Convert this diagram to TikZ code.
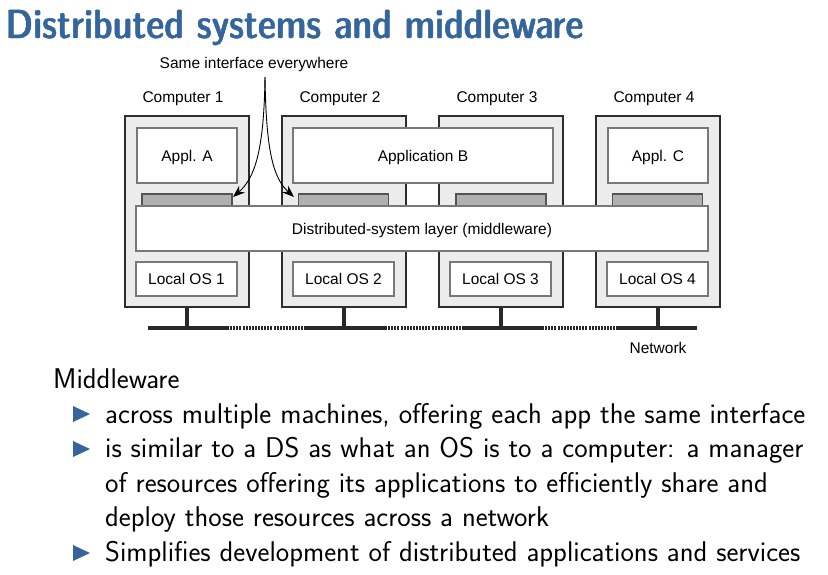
\documentclass[tikz,border=0pt]{standalone}
\usepackage{fontspec}
\newfontfamily\arialf{Liberation Sans}
\newfontfamily\titlef[FakeBold=1.2]{lmsansdemicond10-regular.otf}
\usetikzlibrary{arrows.meta}
\definecolor{sblue}{RGB}{52,101,155}
\definecolor{compfill}{RGB}{236,236,236}
\definecolor{compline}{RGB}{45,45,45}
\definecolor{innerline}{RGB}{120,120,120}
\definecolor{ifill}{RGB}{176,176,176}
\definecolor{netc}{RGB}{40,40,40}
\tikzset{
  compbox/.style={draw=compline, fill=compfill, line width=2.2pt, minimum width=124pt, minimum height=191pt, inner sep=0pt},
  appbox/.style={draw=innerline, fill=white, line width=1.3pt, inner sep=0pt, text height=11pt, text depth=0pt, font=\arialf\fontsize{15.5}{18}\selectfont},
  ifbox/.style={draw=innerline!70!black, fill=ifill, line width=1.3pt, minimum width=90pt, minimum height=12pt, inner sep=0pt},
  lbl/.style={inner sep=0pt, text height=11pt, text depth=0pt, font=\arialf\fontsize{15.5}{18}\selectfont},
  netsolid/.style={draw=netc, line width=4pt},
  netdot/.style={draw=netc, line width=3.5pt, dash pattern=on 2pt off 1.1pt},
  stem/.style={draw=netc, line width=3.5pt},
  curvearrow/.style={draw=black, line width=0.9pt, -{Stealth[length=12pt,width=9pt]}},
  body/.style={anchor=base west, inner sep=0pt, font=\sffamily\fontsize{28.5}{34.5}\selectfont},
  bul/.style={fill=sblue}
}
\begin{document}
\begin{tikzpicture}[x=1pt,y=-1pt]
\useasboundingbox (0,0) rectangle (828,574);

% title
\node[anchor=base west, inner sep=0pt, text=sblue, font=\titlef\fontsize{40.7}{48}\selectfont] (title) at (5,38) {Distributed systems and middleware};

% computers
\node[compbox] (c1) at (187,211.5) {};
\node[compbox] (c2) at (344,211.5) {};
\node[compbox] (c3) at (501,211.5) {};
\node[compbox] (c4) at (658,211.5) {};

\node[lbl] (cl1) at (183,97) {Computer 1};
\node[lbl] (cl2) at (340,97) {Computer 2};
\node[lbl] (cl3) at (497,97) {Computer 3};
\node[lbl] (cl4) at (654,97) {Computer 4};

% applications
\node[appbox, minimum width=100pt, minimum height=55pt] (appA) at (187,155.5) {Appl. A};
\node[appbox, minimum width=260pt, minimum height=55pt] (appB) at (423,155.5) {Application B};
\node[appbox, minimum width=100pt, minimum height=55pt] (appC) at (658,155.5) {Appl. C};

% interface boxes
\node[ifbox] (if1) at (187,200) {};
\node[ifbox] (if2) at (343.5,200) {};
\node[ifbox] (if3) at (501,200) {};
\node[ifbox] (if4) at (657.5,200) {};

% middleware
\node[appbox, minimum width=572pt, minimum height=45pt] (mw) at (422,228.5) {Distributed-system layer (middleware)};

% local OS
\node[appbox, minimum width=101pt, minimum height=34pt] (os1) at (186.5,279) {Local OS 1};
\node[appbox, minimum width=101pt, minimum height=34pt] (os2) at (343.5,279) {Local OS 2};
\node[appbox, minimum width=101pt, minimum height=34pt] (os3) at (500.5,279) {Local OS 3};
\node[appbox, minimum width=101pt, minimum height=34pt] (os4) at (657.5,279) {Local OS 4};

% network
\coordinate (n0) at (148,328);
\coordinate (n1) at (227,328);
\coordinate (n2) at (304,328);
\coordinate (n3) at (385,328);
\coordinate (n4) at (462,328);
\coordinate (n5) at (542,328);
\coordinate (n6) at (617,328);
\coordinate (n7) at (697,328);
\draw[netsolid] (n0) -- (n1);
\draw[netdot] (n1) -- (n2);
\draw[netsolid] (n2) -- (n3);
\draw[netdot] (n3) -- (n4);
\draw[netsolid] (n4) -- (n5);
\draw[netdot] (n5) -- (n6);
\draw[netsolid] (n6) -- (n7);
\draw[stem] (c1.south) -- (c1.south |- n0);
\draw[stem] (c2.south) -- (c2.south |- n0);
\draw[stem] (c3.south) -- (c3.south |- n0);
\draw[stem] (c4.south) -- (c4.south |- n0);
\node[lbl] (net) at (658,348) {Network};

% same interface
\node[lbl] (same) at (254,63) {Same interface everywhere};
\coordinate (src) at (265,77);
\coordinate (tipL) at (233,197);
\coordinate (tipR) at (294,197);
\draw[curvearrow] (src) .. controls (264,150) and (255,178) .. (tipL);
\draw[curvearrow] (src) .. controls (266,150) and (273,178) .. (tipR);

% text
\node[body] (mid) at (53,388) {Middleware};
\fill[bul] (73,406) -- (90,414) -- (73,422) -- cycle;
\node[body] (b1) at (105,423) {across multiple machines, offering each app the same interface};
\fill[bul] (73,441) -- (90,449) -- (73,457) -- cycle;
\node[body] (b2a) at (105,457.5) {is similar to a DS as what an OS is to a computer: a manager};
\node[body] (b2b) at (105,492) {of resources offering its applications to efficiently share and};
\node[body] (b2c) at (105,526.5) {deploy those resources across a network};
\fill[bul] (73,545) -- (90,553) -- (73,561) -- cycle;
\node[body] (b3) at (105,561) {Simplifies development of distributed applications and services};
\end{tikzpicture}
\end{document}
